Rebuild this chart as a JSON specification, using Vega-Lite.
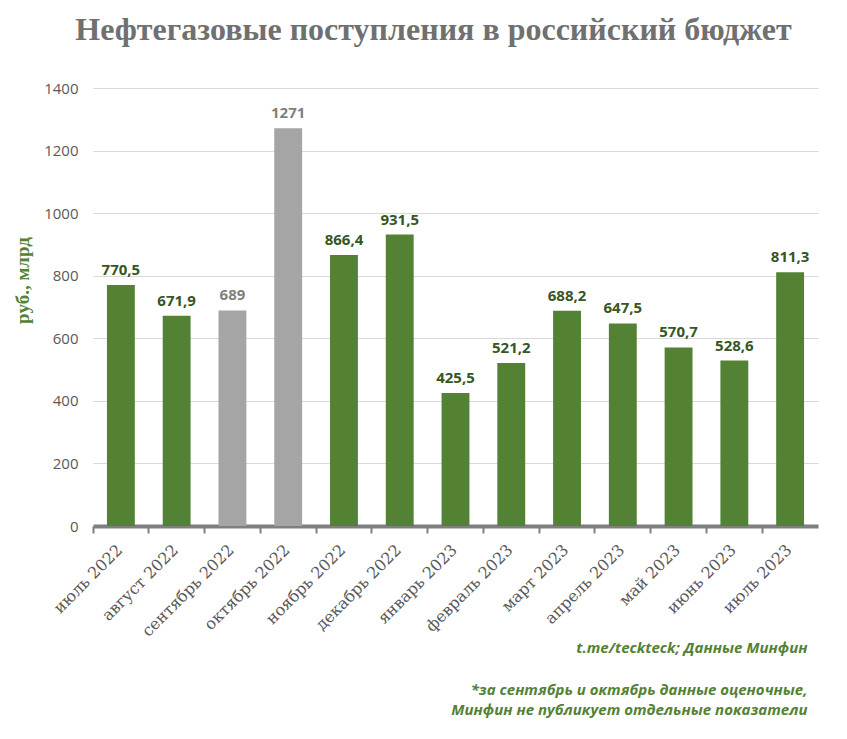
{
  "$schema": "https://vega.github.io/schema/vega-lite/v6.json",
  "width": 725,
  "height": 438,
  "autosize": {"type": "none"},
  "padding": {"left": 93, "top": 88, "right": 29, "bottom": 213},
  "background": "white",
  "config": {
    "view": {"stroke": null},
    "locale": {"number": {"decimal": ",", "thousands": " ", "grouping": [3], "currency": ["", " ₽"]}}
  },
  "title": {
    "text": "Нефтегазовые поступления в российский бюджет",
    "font": "Liberation Serif",
    "fontSize": 32,
    "fontWeight": "bold",
    "color": "#707070",
    "anchor": "middle",
    "baseline": "alphabetic",
    "offset": 9,
    "dx": -22
  },
  "data": {
    "values": [
      {"month": "июль 2022", "value": 770.5, "type": "факт"},
      {"month": "август 2022", "value": 671.9, "type": "факт"},
      {"month": "сентябрь 2022", "value": 689, "type": "оценка"},
      {"month": "октябрь 2022", "value": 1271, "type": "оценка"},
      {"month": "ноябрь 2022", "value": 866.4, "type": "факт"},
      {"month": "декабрь 2022", "value": 931.5, "type": "факт"},
      {"month": "январь 2023", "value": 425.5, "type": "факт"},
      {"month": "февраль 2023", "value": 521.2, "type": "факт"},
      {"month": "март 2023", "value": 688.2, "type": "факт"},
      {"month": "апрель 2023", "value": 647.5, "type": "факт"},
      {"month": "май 2023", "value": 570.7, "type": "факт"},
      {"month": "июнь 2023", "value": 528.6, "type": "факт"},
      {"month": "июль 2023", "value": 811.3, "type": "факт"}
    ]
  },
  "encoding": {
    "x": {
      "field": "month",
      "type": "nominal",
      "sort": null,
      "scale": {"paddingInner": 0, "paddingOuter": 0},
      "axis": {
        "bandPosition": 0,
        "domainColor": "#7f7f7f",
        "domainWidth": 4,
        "tickColor": "#7f7f7f",
        "tickWidth": 2,
        "tickSize": 7,
        "labelAngle": -45,
        "labelAlign": "right",
        "labelBaseline": "middle",
        "labelOffset": -1,
        "labelPadding": 14,
        "labelFont": "DejaVu Serif",
        "labelFontSize": 16,
        "labelColor": "#595959",
        "title": "t.me/teckteck; Данные Минфин",
        "titleFont": "Open Sans",
        "titleFontSize": 15,
        "titleFontWeight": "bold",
        "titleFontStyle": "italic",
        "titleColor": "#548235",
        "titleAlign": "right",
        "titleBaseline": "top",
        "titleX": 714,
        "titleY": 114
      }
    }
  },
  "resolve": {"scale": {"color": "independent", "y": "independent"}, "axis": {"y": "independent"}},
  "layer": [
    {
      "mark": {"type": "bar", "width": {"band": 0.5}},
      "encoding": {
        "y": {
          "field": "value",
          "type": "quantitative",
          "scale": {"domain": [0, 1400], "nice": false},
          "axis": {
            "values": [0, 200, 400, 600, 800, 1000, 1200, 1400],
            "format": "d",
            "domain": false,
            "ticks": false,
            "gridColor": "#d9d9d9",
            "gridWidth": 1,
            "labelPadding": 15,
            "labelFont": "Open Sans",
            "labelFontSize": 15,
            "labelColor": "#595959",
            "title": "руб., млрд",
            "titleFont": "Liberation Serif",
            "titleFontSize": 19,
            "titleFontWeight": "bold",
            "titleColor": "#548235",
            "titleAngle": -90,
            "titleAlign": "center",
            "titleBaseline": "middle",
            "titleX": -71,
            "titleY": 192
          }
        },
        "color": {
          "field": "type",
          "type": "nominal",
          "scale": {"domain": ["факт", "оценка"], "range": ["#548235", "#a5a5a5"]},
          "legend": null
        }
      }
    },
    {
      "mark": {"type": "text", "baseline": "alphabetic", "dy": -10, "font": "Open Sans", "fontSize": 15, "fontWeight": "bold"},
      "encoding": {
        "y": {
          "field": "value",
          "type": "quantitative",
          "scale": {"domain": [0, 1400], "nice": false},
          "axis": {
            "orient": "right",
            "labels": false,
            "ticks": false,
            "domain": false,
            "grid": false,
            "title": ["*за сентябрь и октябрь данные оценочные,", "Минфин не публикует отдельные показатели"],
            "titleFont": "Open Sans",
            "titleFontSize": 15,
            "titleFontWeight": "bold",
            "titleFontStyle": "italic",
            "titleColor": "#548235",
            "titleLineHeight": 20,
            "titleAngle": 0,
            "titleAlign": "right",
            "titleBaseline": "top",
            "titleX": -11,
            "titleY": 594
          }
        },
        "text": {"field": "value", "type": "quantitative", "format": ".1~f"},
        "color": {
          "field": "type",
          "type": "nominal",
          "scale": {"domain": ["факт", "оценка"], "range": ["#375623", "#7f7f7f"]},
          "legend": null
        }
      }
    }
  ]
}
